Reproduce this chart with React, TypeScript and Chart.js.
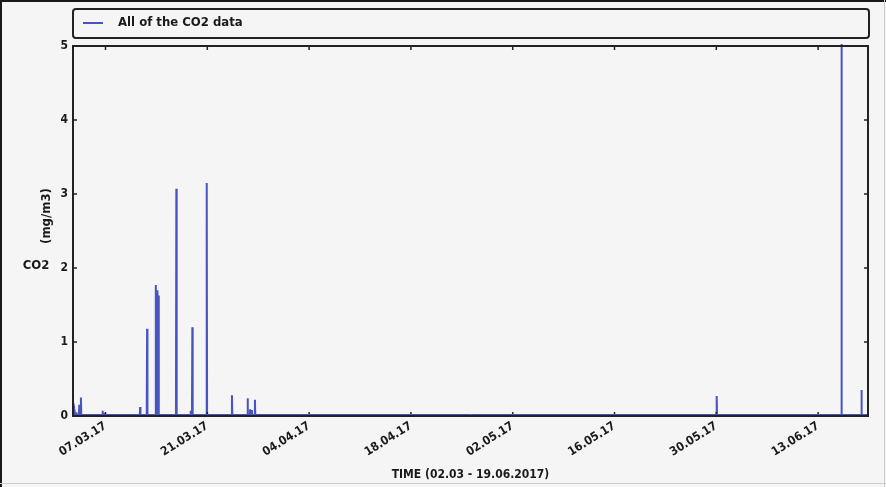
import React, { useEffect, useRef } from "react";
import { Chart, registerables } from "chart.js";

Chart.register(...registerables);

// Day-of-year (2017) for x values
const startDay = 61.53; // 02.03.2017
const endDay = 170.86; // 19.06.2017
const tickDays = [66, 80, 94, 108, 122, 136, 150, 164];
const tickLabels = ["07.03.17", "21.03.17", "04.04.17", "18.04.17", "02.05.17", "16.05.17", "30.05.17", "13.06.17"];
const yTicks = [0, 1, 2, 3, 4, 5];

// CO2 spikes (mg/m3); elsewhere the series is 0
const spikeDays = [61.7, 61.97, 62.39, 62.62, 65.59, 65.89, 70.76, 71.72, 72.92, 73.1, 73.3, 75.74, 77.69, 77.94, 79.92, 83.39, 85.54, 85.86, 86.13, 86.55, 150.05, 167.21, 169.96];
const spikeValues = [0.08, 0.05, 0.15, 0.25, 0.07, 0.04, 0.12, 1.18, 1.77, 1.7, 1.63, 3.07, 0.07, 1.2, 3.15, 0.28, 0.24, 0.09, 0.08, 0.22, 0.27, 5.6, 0.35];

const seriesLabel = "All of the CO2 data";
const xTitle = "TIME (02.03 - 19.06.2017)";
const yTitleUnit = "(mg/m3)";
const yTitleName = "CO2";

const LINE = "#4655c2";
const FONT = "'DejaVu Sans Condensed', 'DejaVu Sans', sans-serif";

function buildPoints() {
  const pts: { x: number; y: number }[] = [{ x: startDay, y: 0 }];
  spikeDays.forEach((d, i) => {
    pts.push({ x: d - 0.05, y: 0 });
    pts.push({ x: d, y: spikeValues[i] });
    pts.push({ x: d + 0.05, y: 0 });
  });
  pts.push({ x: endDay, y: 0 });
  return pts;
}

const decorPlugin = {
  id: "decor",
  beforeDraw(chart: any) {
    const ctx = chart.ctx;
    ctx.save();
    ctx.fillStyle = "#f5f5f5";
    ctx.fillRect(0, 0, chart.width, chart.height);
    ctx.fillStyle = "#1a1a1a";
    ctx.fillRect(0, 0, chart.width, 2);
    ctx.fillRect(0, 0, 2, chart.height);
    ctx.fillStyle = "#cccccc";
    ctx.fillRect(884, 0, 1, chart.height);
    ctx.fillRect(0, 483, chart.width, 1);
    ctx.restore();
  },
  afterDatasetsDraw(chart: any) {
    const { ctx, chartArea, scales } = chart;
    const { left, right, top, bottom } = chartArea;
    const x = scales.x;
    const y = scales.y;
    ctx.save();
    ctx.strokeStyle = "#222";
    ctx.lineWidth = 1.5;
    ctx.beginPath();
    x.ticks.forEach((t: any) => {
      const px = x.getPixelForValue(t.value);
      ctx.moveTo(px, bottom);
      ctx.lineTo(px, bottom - 4);
      ctx.moveTo(px, top);
      ctx.lineTo(px, top + 4);
    });
    y.ticks.forEach((t: any) => {
      const py = y.getPixelForValue(t.value);
      ctx.moveTo(left, py);
      ctx.lineTo(left + 4, py);
      ctx.moveTo(right, py);
      ctx.lineTo(right - 4, py);
    });
    ctx.stroke();
    ctx.lineWidth = 2;
    ctx.strokeRect(left, top, right - left, bottom - top);
    // blue baseline over the bottom axis
    ctx.strokeStyle = LINE;
    ctx.lineWidth = 1;
    ctx.beginPath();
    ctx.moveTo(left + 1, bottom - 1.5);
    ctx.lineTo(right - 1, bottom - 1.5);
    ctx.stroke();

    // legend box
    ctx.strokeStyle = "#222";
    ctx.lineWidth = 2;
    ctx.beginPath();
    ctx.roundRect(left, 9, right - left + 1, 29, 3);
    ctx.stroke();
    ctx.strokeStyle = LINE;
    ctx.beginPath();
    ctx.moveTo(left + 10, 23);
    ctx.lineTo(left + 30, 23);
    ctx.stroke();
    ctx.fillStyle = "#1a1a1a";
    ctx.font = `bold 13px ${FONT}`;
    ctx.textBaseline = "middle";
    ctx.textAlign = "left";
    ctx.fillText(seriesLabel, left + 45, 23);

    // y titles
    ctx.font = `bold 13px ${FONT}`;
    ctx.textAlign = "center";
    ctx.fillText(yTitleName, 36, 266);
    ctx.translate(47, 216);
    ctx.rotate(-Math.PI / 2);
    ctx.fillText(yTitleUnit, 0, 0);
    ctx.restore();
  },
};

export default function App() {
  const ref = useRef<HTMLCanvasElement | null>(null);
  useEffect(() => {
    if (!ref.current) return;
    const chart = new Chart(ref.current, {
      type: "line",
      data: {
        datasets: [
          {
            label: seriesLabel,
            data: buildPoints(),
            borderColor: LINE,
            backgroundColor: LINE,
            borderWidth: 2,
            pointRadius: 0,
            tension: 0,
            fill: false,
            clip: 2,
          },
        ],
      },
      options: {
        animation: false,
        responsive: false,
        layout: { padding: { left: 0, right: 18, top: 46, bottom: 0 } },
        plugins: { legend: { display: false }, tooltip: { enabled: false } },
        scales: {
          x: {
            type: "linear",
            min: startDay,
            max: endDay,
            grid: { display: false, drawTicks: false },
            border: { display: false },
            afterBuildTicks: (s: any) => {
              s.ticks = tickDays.map((v) => ({ value: v }));
            },
            afterFit: (s: any) => {
              s.height = 71;
            },
            ticks: {
              autoSkip: false,
              minRotation: 32,
              maxRotation: 32,
              padding: 3,
              color: "#1a1a1a",
              font: { family: FONT, size: 12, weight: "bold" },
              callback: (_v: any, i: number) => tickLabels[i],
            },
            title: {
              display: true,
              text: xTitle,
              color: "#1a1a1a",
              font: { family: FONT, size: 12, weight: "bold" },
              padding: { top: 0, bottom: 5 },
            },
          },
          y: {
            min: 0,
            max: 5,
            grid: { display: false, drawTicks: false },
            border: { display: false },
            afterBuildTicks: (s: any) => {
              s.ticks = yTicks.map((v) => ({ value: v }));
            },
            afterFit: (s: any) => {
              s.width = 73;
            },
            ticks: {
              padding: 5,
              color: "#1a1a1a",
              font: { family: FONT, size: 12, weight: "bold" },
            },
          },
        },
      },
      plugins: [decorPlugin],
    });
    return () => chart.destroy();
  }, []);
  return (
    <div style={{ position: "fixed", left: 0, top: 0, width: 886, height: 487 }}>
      <canvas ref={ref} width={886} height={487} />
    </div>
  );
}
